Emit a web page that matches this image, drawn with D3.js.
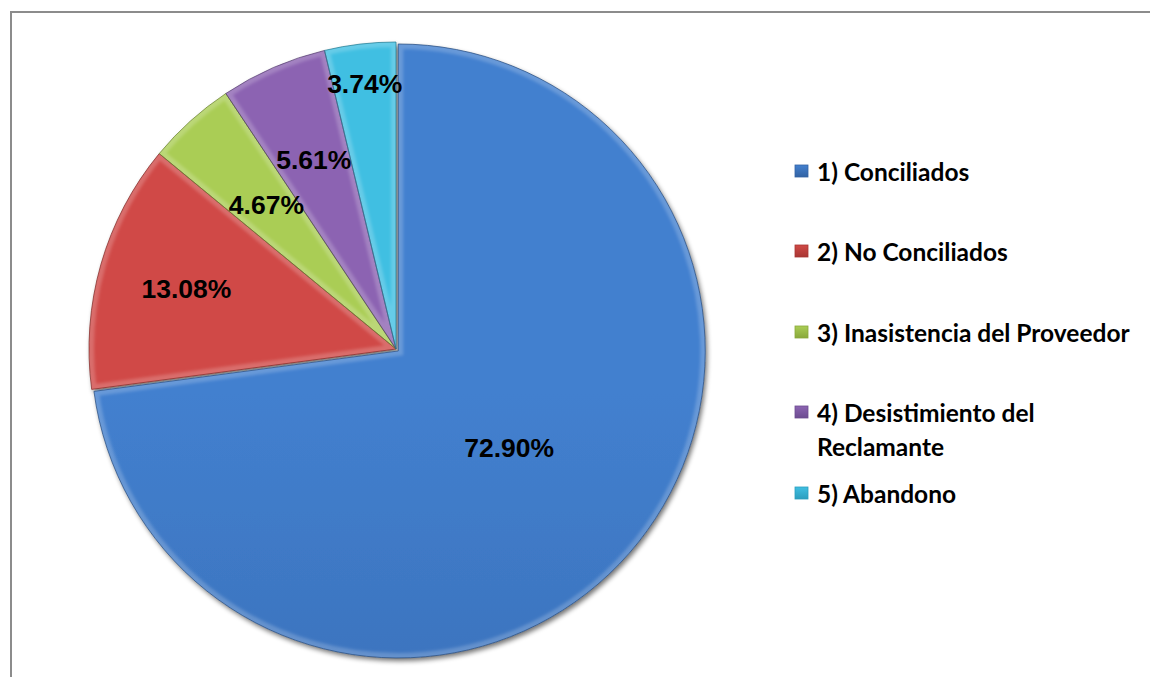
<!DOCTYPE html>
<html>
<head>
<meta charset="utf-8">
<script src="https://cdn.jsdelivr.net/npm/d3@7"></script>
<style>
  html, body { margin: 0; padding: 0; background: #fff; }
  svg { display: block; }
</style>
</head>
<body>
<svg id="chart" width="1150" height="677"></svg>
<script>
// Case outcome shares (percent)
const categories = [
  "1) Conciliados",
  "2) No Conciliados",
  "3) Inasistencia del Proveedor",
  "4) Desistimiento del Reclamante",
  "5) Abandono"
];
const values = [72.90, 13.08, 4.67, 5.61, 3.74];
const valueLabels = ["72.90%", "13.08%", "4.67%", "5.61%", "3.74%"];

// Slice palette: [light, base, dark]
const palette = [
  ["#4380cf", "#3b73bd", "#3262a3"],
  ["#d04a46", "#bf403d", "#a83633"],
  ["#aacd55", "#9dbf48", "#89a83b"],
  ["#8c64b2", "#7f5ba6", "#6c4c90"],
  ["#40bfe2", "#37b3d6", "#2c9ebe"]
];

// Label distance from centre, as a share of the radius
const labelRadiusFactor = [0.49, 0.71, 0.63, 0.67, 0.87];

const svg = d3.select("#chart");
const W = 1150, H = 677;
const cx = 396, cy = 349, R = 307;

// Chart frame (top and left edges shown)
svg.append("path")
  .attr("d", `M11,${H} L11,12 L${W},12`)
  .attr("fill", "none")
  .attr("stroke", "#8c8c8c")
  .attr("stroke-width", 2);

const defs = svg.append("defs");

// Soft shadow beneath the pie
const shadow = defs.append("filter").attr("id", "shadow")
  .attr("x", "-10%").attr("y", "-10%").attr("width", "120%").attr("height", "120%");
shadow.append("feGaussianBlur").attr("in", "SourceAlpha").attr("stdDeviation", 2.5);
shadow.append("feOffset").attr("dx", 2).attr("dy", 3).attr("result", "off");
shadow.append("feComponentTransfer").append("feFuncA").attr("type", "linear").attr("slope", 0.55);
const merge = shadow.append("feMerge");
merge.append("feMergeNode");
merge.append("feMergeNode").attr("in", "SourceGraphic");

const bevelBlur = defs.append("filter").attr("id", "bevelBlur");
bevelBlur.append("feGaussianBlur").attr("stdDeviation", 1.5);

palette.forEach((c, i) => {
  const g = defs.append("linearGradient").attr("id", "grad" + i)
    .attr("gradientUnits", "userSpaceOnUse")
    .attr("x1", cx).attr("y1", cy - R).attr("x2", cx).attr("y2", cy + R);
  g.append("stop").attr("offset", "0%").attr("stop-color", c[0]);
  g.append("stop").attr("offset", "50%").attr("stop-color", c[1]);
  g.append("stop").attr("offset", "100%").attr("stop-color", c[2]);

  // small legend swatch gradient
  const s = defs.append("linearGradient").attr("id", "sw" + i)
    .attr("x1", 0).attr("y1", 0).attr("x2", 0).attr("y2", 1);
  s.append("stop").attr("offset", "0%").attr("stop-color", c[0]);
  s.append("stop").attr("offset", "100%").attr("stop-color", c[2]);
});

const pie = d3.pie().sort(null).value(d => d);
const arcs = pie(values);
const arc = d3.arc().innerRadius(0).outerRadius(R);

// Blue slice is pulled slightly away from the centre
const explode = [3, 0, 0, 0, 0];

const pieG = svg.append("g")
  .attr("transform", `translate(${cx},${cy})`)
  .attr("filter", "url(#shadow)");

arcs.forEach((a, i) => {
  const mid = (a.startAngle + a.endAngle) / 2;
  const ox = Math.sin(mid) * explode[i];
  const oy = -Math.cos(mid) * explode[i];
  pieG.append("path")
    .attr("transform", `translate(${ox},${oy})`)
    .attr("d", arc(a))
    .attr("fill", `url(#grad${i})`);
});

// Bevel: light band just inside each slice edge, thin dark outline
arcs.forEach((a, i) => {
  const mid = (a.startAngle + a.endAngle) / 2;
  const ox = Math.sin(mid) * explode[i];
  const oy = -Math.cos(mid) * explode[i];
  const t = `translate(${cx + ox},${cy + oy})`;

  defs.append("clipPath").attr("id", "clip" + i)
    .append("path").attr("d", arc(a)).attr("transform", t);

  const bevel = svg.append("g").attr("clip-path", `url(#clip${i})`);
  bevel.append("path")
    .attr("d", arc(a))
    .attr("transform", t)
    .attr("fill", "none")
    .attr("stroke", "#ffffff")
    .attr("stroke-opacity", 0.2)
    .attr("stroke-width", 10)
    .attr("filter", "url(#bevelBlur)");

  svg.append("path")
    .attr("d", arc(a))
    .attr("transform", t)
    .attr("fill", "none")
    .attr("stroke", d3.color(palette[i][2]).darker(0.8))
    .attr("stroke-opacity", 0.7)
    .attr("stroke-width", 1);
});

// Percentage labels
const labelG = svg.append("g").attr("transform", `translate(${cx},${cy})`);
arcs.forEach((a, i) => {
  const mid = (a.startAngle + a.endAngle) / 2;
  const r = R * labelRadiusFactor[i];
  labelG.append("text")
    .attr("x", Math.sin(mid) * r)
    .attr("y", -Math.cos(mid) * r)
    .attr("text-anchor", "middle")
    .attr("dominant-baseline", "central")
    .attr("font-family", "Liberation Sans, Arial, sans-serif")
    .attr("font-weight", "bold")
    .attr("font-size", 26.5)
    .attr("fill", "#000")
    .text(valueLabels[i]);
});

// Legend
const legendRows = [
  { lines: ["1) Conciliados"], y: 171 },
  { lines: ["2) No Conciliados"], y: 251 },
  { lines: ["3) Inasistencia del Proveedor"], y: 332 },
  { lines: ["4) Desistimiento del", "Reclamante"], y: 412 },
  { lines: ["5) Abandono"], y: 493 }
];
const legend = svg.append("g");
legendRows.forEach((row, i) => {
  legend.append("rect")
    .attr("x", 795).attr("y", row.y - 6)
    .attr("width", 13).attr("height", 12)
    .attr("fill", `url(#sw${i})`)
    .attr("stroke", palette[i][2])
    .attr("stroke-width", 0.8);
  row.lines.forEach((ln, j) => {
    legend.append("text")
      .attr("x", 817)
      .attr("y", row.y + j * 34)
      .attr("dominant-baseline", "central")
      .attr("font-family", "Lato, 'Open Sans', sans-serif")
      .attr("font-weight", "bold")
      .attr("font-size", 24.5)
      .attr("fill", "#000")
      .text(ln);
  });
});
</script>
</body>
</html>
